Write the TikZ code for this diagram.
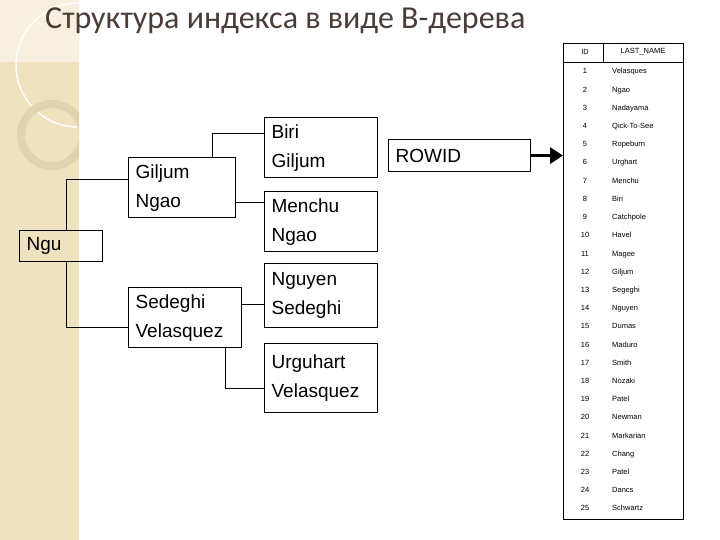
\documentclass[tikz,border=0pt]{standalone}
\usepackage{fontspec}
\setmainfont{Liberation Sans}
\newfontfamily\titlefont{Carlito}
\usetikzlibrary{arrows.meta}
\definecolor{beige}{HTML}{EFE2BE}
\definecolor{ringc}{HTML}{E2D3B0}
\definecolor{titlec}{HTML}{4A3C36}
\tikzset{
  box/.style 2 args={draw, line width=1.2pt, anchor=north west, inner xsep=7pt, inner ysep=0pt, align=left,
    text width=#1-14pt, minimum width=#1, minimum height=#2, text depth=,
    font=\fontsize{19}{29}\selectfont},
  cell/.style={font=\fontsize{7.5}{9}\selectfont, inner sep=0pt},
  link/.style={line width=1.2pt}
}
\begin{document}
\begin{tikzpicture}[x=1pt,y=-1pt]
\useasboundingbox (0,0) rectangle (720,540);
\fill[white] (0,0) rectangle (720,540);
% decorative strip
\fill[beige] (0,0) rectangle (79,540);
\begin{scope}
\clip (0,0) rectangle (79,540);
\fill[beige!50!white] (0,0) rectangle (79,62);
\draw[white, line width=1.5pt] (78,65) circle (62);
\draw[ringc, line width=8pt] (52,135) circle (31);
\end{scope}
\node[anchor=west, text=titlec, font=\titlefont\fontsize{32}{34}\selectfont, inner sep=0pt] (title) at (45,21) {Структура индекса в виде B-дерева};
% tree
\node[box={83pt}{31pt}] (ngu) at (19,230) {Ngu};
\node[box={107pt}{60pt}] (gn) at (128,157) {Giljum\\Ngao};
\node[box={113pt}{60pt}] (sv) at (128,287) {Sedeghi\\Velasquez};
\node[box={113pt}{60pt}] (bg) at (264,117) {Biri\\Giljum};
\node[box={113pt}{60pt}] (mn) at (264,191) {Menchu\\Ngao};
\node[box={113pt}{64pt}] (ns) at (264,263) {Nguyen\\Sedeghi};
\node[box={113pt}{69pt}] (uv) at (264,343) {Urguhart\\Velasquez};
\node[box={142pt}{32pt}] (rowid) at (388,139) {ROWID};
\draw[link] ([xshift=5pt]ngu.north) |- ([yshift=8pt]gn.west);
\draw[link] ([xshift=5pt]ngu.south) |- ([yshift=-10pt]sv.west);
\draw[link] ([xshift=30pt]gn.north) |- ([yshift=14pt]bg.west);
\draw[link] ([yshift=-15pt]gn.east) -- ([yshift=-15pt]gn.east -| mn.west);
\draw[link] ([yshift=13pt]sv.east) -- ([yshift=13pt]sv.east -| ns.west);
\draw[link] ([xshift=40pt]sv.south) |- ([yshift=-10pt]uv.west);
% table
\node[draw, line width=1.2pt, anchor=north west, minimum width=120pt, minimum height=476pt, inner sep=0pt] (tbl) at (563,43) {};
\draw[line width=0.6pt] (563,62) -- (683,62);
\draw[line width=0.6pt] (603,43) -- (603,62);
\node[cell] (hid) at (585,52) {ID};
\node[cell] (hname) at (643,52) {LAST\_NAME};
\draw[line width=3pt, -{Triangle[length=13pt,width=16pt]}] (rowid.east) -- (tbl.west |- rowid.east);
\foreach \i/\n in {1/Velasques,2/Ngao,3/Nadayama,4/Qick-To-See,5/Ropeburn,6/Urghart,7/Menchu,8/Biri,9/Catchpole,10/Havel,11/Magee,12/Giljum,13/Segeghi,14/Nguyen,15/Dumas,16/Maduro,17/Smith,18/Nozaki,19/Patel,20/Newman,21/Markarian,22/Chang,23/Patel,24/Dancs,25/Schwartz}{
  \node[cell, anchor=base] (id\i) at (585,{74+(\i-1)*18.2}) {\i};
  \node[cell, anchor=base west] (nm\i) at (612,{74+(\i-1)*18.2}) {\n};
}
\end{tikzpicture}
\end{document}
